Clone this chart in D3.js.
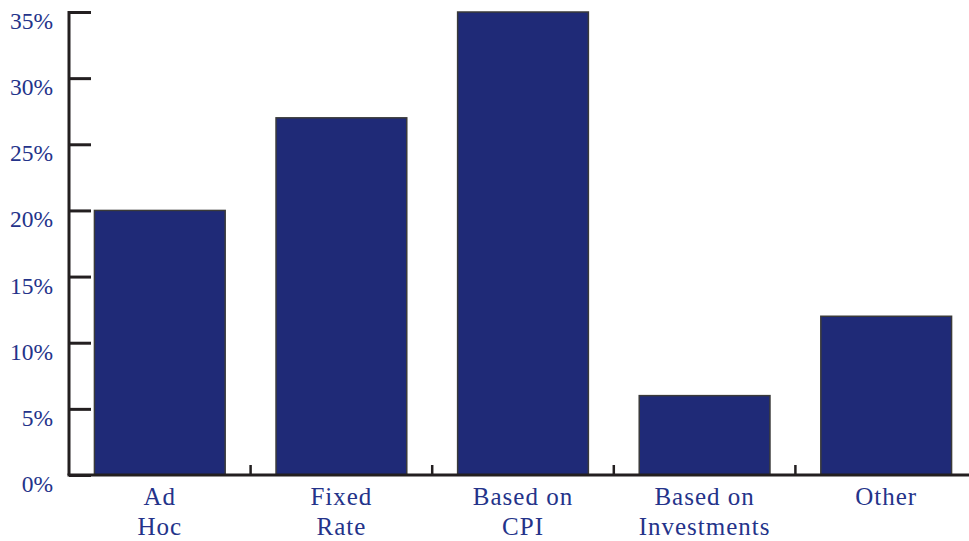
<!DOCTYPE html>
<html><head><meta charset="utf-8">
<script src="https://cdn.jsdelivr.net/npm/d3@7"></script>
<style>body{margin:0;background:#fff}</style>
</head><body>
<svg id="c" width="969" height="541"></svg>
<script>
const categories = [["Ad","Hoc"],["Fixed","Rate"],["Based on","CPI"],["Based on","Investments"],["Other"]];
const values = [20, 27, 35, 6, 12];
const yTicks = [0, 5, 10, 15, 20, 25, 30, 35];

const svg = d3.select("#c");
const x0 = 69, yBottom = 475, yTop = 12;
const x = d3.scaleBand().domain(d3.range(categories.length)).range([x0, 977]).paddingInner(0.28).paddingOuter(0.14);
const y = d3.scaleLinear().domain([0, 35]).range([yBottom, yTop]);
const navy = "#1f2a77", txt = "#24338a", axisCol = "#231f20";

// bars
svg.selectAll("rect.bar").data(values).join("rect")
  .attr("x", (d,i) => x(i)).attr("y", d => y(d))
  .attr("width", x.bandwidth()).attr("height", d => yBottom - y(d))
  .attr("fill", navy).attr("stroke", "#3a3a3a").attr("stroke-width", 1.5);

// y axis
const yAxis = d3.axisRight(y).tickValues(yTicks).tickSize(22).tickFormat("");
const gy = svg.append("g").attr("transform", `translate(${x0},0)`).call(yAxis);
gy.select(".domain").attr("stroke", axisCol).attr("stroke-width", 3).attr("d", `M0,${yTop-1}V${yBottom}`);
gy.selectAll(".tick line").attr("stroke", axisCol).attr("stroke-width", 3);
svg.selectAll("text.yl").data(yTicks).join("text")
  .attr("x", 53).attr("y", d => y(d) + 17).attr("text-anchor", "end")
  .attr("font-family", "Liberation Serif, serif").attr("font-size", 23.5).attr("fill", txt)
  .text(d => d + "%");

// x axis line
svg.append("line").attr("x1", x0 - 1.5).attr("x2", 969).attr("y1", yBottom).attr("y2", yBottom)
  .attr("stroke", axisCol).attr("stroke-width", 3);
// category separator ticks
const seps = d3.range(1, categories.length).map(i => x(i) - x.step() * x.paddingInner() / 2);
svg.selectAll("line.sep").data(seps).join("line")
  .attr("x1", d => d).attr("x2", d => d).attr("y1", yBottom).attr("y2", yBottom - 10)
  .attr("stroke", axisCol).attr("stroke-width", 2.5);

// category labels
const lab = svg.selectAll("text.cl").data(categories).join("text")
  .attr("text-anchor", "middle")
  .attr("font-family", "Liberation Serif, serif").attr("font-size", 25).attr("fill", txt)
  .attr("letter-spacing", 1);
lab.selectAll("tspan").data(d => d).join("tspan")
  .attr("x", function(){ const i = categories.indexOf(d3.select(this.parentNode).datum()); return x(i) + x.bandwidth()/2; })
  .attr("y", (d,j) => 505 + j * 30)
  .text(d => d);
</script>
</body></html>
